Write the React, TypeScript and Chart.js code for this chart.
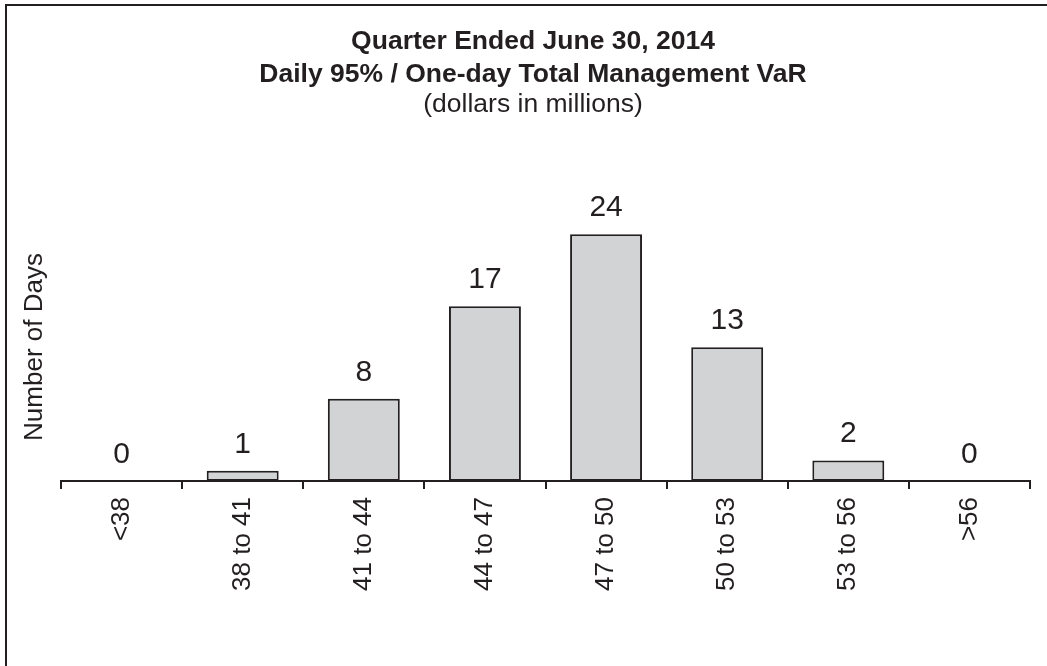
import React, { useEffect, useRef } from "react";
import { Chart, registerables } from "chart.js";

Chart.register(...registerables);

const categories = ["<38", "38 to 41", "41 to 44", "44 to 47", "47 to 50", "50 to 53", "53 to 56", ">56"];
const days = [0, 1, 8, 17, 24, 13, 2, 0];
const titleLines = ["Quarter Ended June 30, 2014", "Daily 95% / One-day Total Management VaR"];
const subtitleText = "(dollars in millions)";
const yAxisTitle = "Number of Days";

const FONT = "'Liberation Sans', Arial, Helvetica, sans-serif";
const INK = "#231f20";
const W = 1047;
const H = 666;

const framePlugin = {
  id: "frame",
  beforeDraw(chart: any) {
    const ctx = chart.ctx;
    ctx.save();
    ctx.fillStyle = "#ffffff";
    ctx.fillRect(0, 0, chart.width, chart.height);
    ctx.strokeStyle = INK;
    ctx.lineWidth = 2;
    ctx.beginPath();
    ctx.moveTo(6, chart.height + 5);
    ctx.lineTo(6, 5);
    ctx.lineTo(chart.width + 5, 5);
    ctx.stroke();
    ctx.restore();
  },
};

const labelsPlugin = {
  id: "valueLabels",
  afterDatasetsDraw(chart: any) {
    const ctx = chart.ctx;
    const meta = chart.getDatasetMeta(0);
    const values = chart.data.datasets[0].data as number[];
    ctx.save();
    ctx.fillStyle = INK;
    ctx.font = `30px ${FONT}`;
    ctx.textAlign = "center";
    ctx.textBaseline = "alphabetic";
    meta.data.forEach((el: any, i: number) => {
      ctx.fillText(String(values[i]), el.x, el.y - 18);
    });
    // y axis title
    ctx.font = `26px ${FONT}`;
    ctx.translate(42, 347);
    ctx.rotate(-Math.PI / 2);
    ctx.fillText(yAxisTitle, 0, 0);
    ctx.restore();
  },
};

export default function App() {
  const ref = useRef<HTMLCanvasElement | null>(null);
  useEffect(() => {
    if (!ref.current) return;
    const chart = new Chart(ref.current, {
      type: "bar",
      data: {
        labels: categories,
        datasets: [
          {
            data: days,
            backgroundColor: "#d1d3d4",
            borderColor: INK,
            borderWidth: 2,
            borderSkipped: false,
            barPercentage: 0.594,
            categoryPercentage: 1,
            yAxisID: "y",
          },
        ],
      },
      options: {
        responsive: false,
        animation: false,
        devicePixelRatio: 1,
        layout: { padding: { top: 0, left: 20, right: 1, bottom: 0 } },
        plugins: {
          legend: { display: false },
          tooltip: { enabled: false },
          title: {
            display: true,
            text: titleLines,
            color: INK,
            font: { family: FONT, size: 26.5, weight: "bold", lineHeight: 1.26 },
            padding: { top: 25, bottom: 0 },
          },
          subtitle: {
            display: true,
            text: subtitleText,
            color: INK,
            font: { family: FONT, size: 26.5, weight: "normal", lineHeight: 1.0 },
            padding: { top: 0, bottom: 13 },
          },
        },
        scales: {
          x: {
            type: "category",
            offset: true,
            grid: {
              display: true,
              offset: true,
              drawOnChartArea: false,
              drawTicks: true,
              tickLength: 8,
              color: INK,
              lineWidth: 2,
            },
            border: { display: true, color: INK, width: 2 },
            ticks: {
              color: INK,
              font: { family: FONT, size: 26 },
              maxRotation: 90,
              minRotation: 90,
              padding: 8,
              autoSkip: false,
            },
            afterFit(scale: any) {
              scale.height = 185;
            },
          },
          y: {
            type: "linear",
            position: "left",
            min: 0,
            max: 34,
            display: true,
            grid: { display: false },
            border: { display: false },
            ticks: { display: false },
            afterFit(scale: any) {
              scale.width = 41;
            },
          },
          yR: {
            type: "linear",
            position: "right",
            display: true,
            grid: { display: false },
            border: { display: false },
            ticks: { display: false },
            afterFit(scale: any) {
              scale.width = 16;
            },
          },
        },
      } as any,
      plugins: [framePlugin, labelsPlugin],
    });
    return () => chart.destroy();
  }, []);
  return (
    <div style={{ position: "fixed", left: 0, top: 0, width: W, height: H, background: "#fff" }}>
      <canvas ref={ref} width={W} height={H} style={{ display: "block", width: W, height: H }} />
    </div>
  );
}
